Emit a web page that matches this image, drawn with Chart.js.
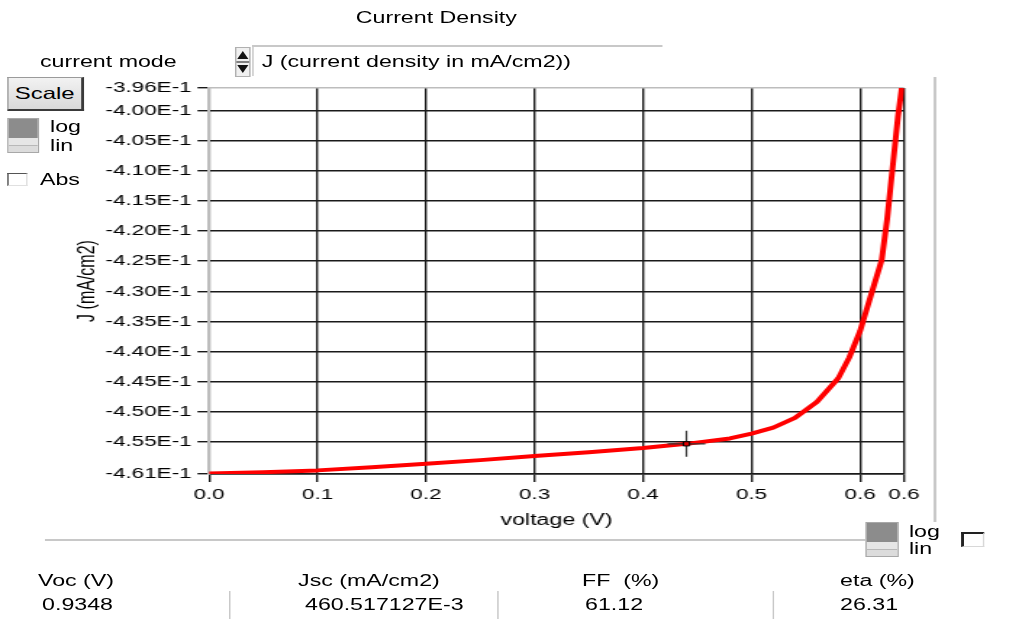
<!DOCTYPE html>
<html>
<head>
<meta charset="utf-8">
<title>Current Density</title>
<script src="https://cdn.jsdelivr.net/npm/chart.js@4.4.1/dist/chart.umd.min.js"></script>
<style>
  html, body { margin: 0; padding: 0; background: #fff; overflow: hidden; }
  /* the whole panel is drawn narrow and stretched sideways, like the screenshot */
  #panel { position: absolute; left: 0; top: 0; width: 705px; height: 619px;
           transform: scaleX(1.4496); transform-origin: 0 0;
           font-family: "Liberation Sans", Arial, sans-serif; color: #000; }
  #chartBox { position: absolute; left: 0; top: 0; width: 705px; height: 619px; }
  .t { position: absolute; font-size: 16px; line-height: 18px; white-space: pre; }
  .line { position: absolute; background: #c8c8c8; }
  .btn { position: absolute; left: 4.8px; top: 77px; width: 50px; height: 31px;
         background: linear-gradient(#f2f2f2, #d9d9d9); border: 1px solid #9a9a9a;
         border-right: 2px solid #3a3a3a; border-bottom: 2px solid #3a3a3a;
         font-size: 16.5px; line-height: 31px; text-align: center; }
  .toggle { position: absolute; width: 22px; height: 35px; border: 1px solid #a8a8a8; box-sizing: border-box; }
  .toggle .dark { position: absolute; left: 0; top: 0; right: 0; height: 19px; background: #8c8c8c; }
  .toggle .l1 { position: absolute; left: 0; top: 19px; right: 0; height: 7px; background: #e6e6e6; border-bottom: 1px solid #b8b8b8; }
  .toggle .l2 { position: absolute; left: 0; top: 27px; right: 0; bottom: 0; background: #dcdcdc; }
  .check { position: absolute; box-sizing: border-box; background: #fff; }
</style>
</head>
<body>
<div id="panel">
  <div id="chartBox"><canvas id="ivChart"></canvas></div>

  <div class="t" style="left:200px; width:202px; top:9px; text-align:center;">Current Density</div>

  <div class="t" style="left:27.6px; top:53px;">current mode</div>
  <svg style="position:absolute; left:161.5px; top:47px;" width="11" height="30" viewBox="0 0 10 30" preserveAspectRatio="none">
    <rect x="0.5" y="0.5" width="9" height="29" fill="#f0f0f0" stroke="#b0b0b0"/>
    <polygon points="1.5,12 5,4 8.5,12" fill="#111"/>
    <line x1="1" y1="15" x2="9" y2="15" stroke="#111" stroke-width="1.2"/>
    <polygon points="1.5,18 5,26 8.5,18" fill="#111"/>
  </svg>
  <div class="line" style="left:173.5px; top:45px; width:1.4px; height:31px;"></div>
  <div class="line" style="left:173.5px; top:45px; width:283.9px; height:2px;"></div>
  <div class="t" style="left:180.5px; top:53px;">J (current density in mA/cm2))</div>

  <div class="btn">Scale</div>

  <div class="toggle" style="left:4.8px; top:118px;"><div class="dark"></div><div class="l1"></div><div class="l2"></div></div>
  <div class="t" style="left:34.5px; top:118px;">log</div>
  <div class="t" style="left:34.5px; top:137px;">lin</div>

  <div class="check" style="left:4.8px; top:173px; width:14.5px; height:13px; border-top:1.5px solid #555; border-left:1.5px solid #555; border-right:1px solid #e0e0e0; border-bottom:1px solid #e0e0e0;"></div>
  <div class="t" style="left:27.6px; top:171px;">Abs</div>

  <div class="line" style="left:644.3px; top:77px; width:1.4px; height:445px;"></div>
  <div class="line" style="left:31px; top:539px; width:566px; height:1.5px;"></div>

  <div class="toggle" style="left:596.7px; top:522px; width:23.5px;"><div class="dark"></div><div class="l1"></div><div class="l2"></div></div>
  <div class="t" style="left:627px; top:523px;">log</div>
  <div class="t" style="left:627px; top:540px;">lin</div>
  <div class="check" style="left:663px; top:532px; width:15.9px; height:15px; border-top:2px solid #222; border-left:2px solid #222; border-right:1px solid #d8d8d8; border-bottom:1px solid #d8d8d8;"></div>

  <div id="readouts"></div>
</div>

<script>
// J-V curve
const voltage = [0, 0.05, 0.10, 0.15, 0.20, 0.25, 0.30, 0.35, 0.40, 0.44, 0.48, 0.50,
                 0.52, 0.54, 0.56, 0.58, 0.59, 0.60, 0.61, 0.62, 0.625, 0.63, 0.635, 0.6385];
const currentDensity = [-0.4602, -0.4600, -0.4597, -0.4592, -0.4586, -0.4580, -0.4573, -0.4567,
                        -0.4560, -0.4553, -0.4544, -0.4536, -0.4526, -0.4510, -0.4484, -0.4444,
                        -0.4410, -0.4366, -0.4307, -0.4248, -0.4180, -0.4095, -0.4010, -0.3963];

// cursor marker
const cursorV = [0.44];
const cursorJ = [-0.4553];

// axis ticks as the graph shows them
const xTickValues = [0, 0.1, 0.2, 0.3, 0.4, 0.5, 0.6, 0.6405];
const xTickLabels = ['0.0', '0.1', '0.2', '0.3', '0.4', '0.5', '0.6', '0.6'];
const yTickValues = [-0.4603, -0.455, -0.450, -0.445, -0.440, -0.435, -0.430,
                     -0.425, -0.420, -0.415, -0.410, -0.405, -0.400, -0.3963];
const yTickLabels = ['-4.61E-1', '-4.55E-1', '-4.50E-1', '-4.45E-1', '-4.40E-1', '-4.35E-1', '-4.30E-1',
                     '-4.25E-1', '-4.20E-1', '-4.15E-1', '-4.10E-1', '-4.05E-1', '-4.00E-1', '-3.96E-1'];

// readouts under the graph
const readoutNames = ['Voc (V)', 'Jsc (mA/cm2)', 'FF  (%)', 'eta (%)'];
const readoutValues = ['0.9348', '460.517127E-3', '61.12', '26.31'];
const readoutNameX = [26.2, 205.6, 401.5, 579.5];
const readoutValueX = [29, 210.4, 403.6, 579.5];
const readoutBoxRight = [158, 342.8, 532.6];

const box = document.getElementById('readouts');
readoutNames.forEach((name, i) => {
  box.insertAdjacentHTML('beforeend',
    `<div class="t" style="left:${readoutNameX[i]}px; top:572px;">${name}</div>` +
    `<div class="t" style="left:${readoutValueX[i]}px; top:596px;">${readoutValues[i]}</div>`);
});
readoutBoxRight.forEach(x => {
  box.insertAdjacentHTML('beforeend', `<div class="line" style="left:${x}px; top:591px; width:1.4px; height:28px;"></div>`);
});

Chart.defaults.font.family = '"Liberation Sans", Arial, sans-serif';
Chart.defaults.color = '#000';

const gridDark = '#1a1a1a';
const gridEdge = '#bdbdbd';

new Chart(document.getElementById('ivChart'), {
  type: 'line',
  data: {
    datasets: [
      {
        label: 'cursor',
        type: 'scatter',
        data: cursorV.map((v, i) => ({ x: v, y: cursorJ[i] })),
        pointStyle: 'rect',
        pointRadius: 3,
        backgroundColor: '#e00000',
        borderColor: '#000',
        borderWidth: 1
      },
      {
        label: 'cursor cross',
        type: 'scatter',
        data: cursorV.map((v, i) => ({ x: v, y: cursorJ[i] })),
        pointStyle: 'cross',
        pointRadius: 13,
        borderColor: '#333',
        borderWidth: 1.2
      },
      {
        label: 'J',
        data: voltage.map((v, i) => ({ x: v, y: currentDensity[i] })),
        borderColor: '#ff0000',
        borderWidth: 4,
        borderJoinStyle: 'round',
        pointRadius: 0,
        tension: 0,
        fill: false
      }
    ]
  },
  options: {
    responsive: true,
    maintainAspectRatio: false,
    animation: false,
    layout: { padding: { left: 51.1, right: 81.4, top: 88, bottom: 88.4 } },
    plugins: { legend: { display: false }, tooltip: { enabled: false } },
    scales: {
      x: {
        type: 'linear',
        min: 0,
        max: 0.6405,
        afterBuildTicks: s => { s.ticks = xTickValues.map(v => ({ value: v })); },
        afterFit: s => { s.height = 56.6; },
        ticks: {
          autoSkip: false, maxRotation: 0, padding: 3,
          font: { size: 15.5 },
          callback: (v, i) => xTickLabels[i]
        },
        grid: {
          color: c => (c.tick && c.tick.value === 0) ? gridEdge : gridDark,
          tickColor: gridDark,
          lineWidth: 1.4,
          tickLength: 8
        },
        border: { color: gridDark, width: 1.4 },
        title: { display: true, text: 'voltage (V)', font: { size: 16 }, padding: { top: 0, bottom: 0 } }
      },
      y: {
        type: 'linear',
        min: -0.4603,
        max: -0.3963,
        afterBuildTicks: s => { s.ticks = yTickValues.map(v => ({ value: v })); },
        afterFit: s => { s.width = 93.1; },
        ticks: {
          autoSkip: false, padding: 4,
          font: { size: 15.5 },
          callback: (v, i) => yTickLabels[i]
        },
        grid: {
          color: c => (c.tick && c.tick.value === -0.3963) ? gridEdge : gridDark,
          tickColor: gridDark,
          lineWidth: 1.4,
          tickLength: 8
        },
        border: { color: gridEdge, width: 2 },
        title: { display: true, text: 'J (mA/cm2)', font: { size: 16 }, padding: { top: 0, bottom: 0 } }
      }
    }
  }
});
</script>
</body>
</html>
